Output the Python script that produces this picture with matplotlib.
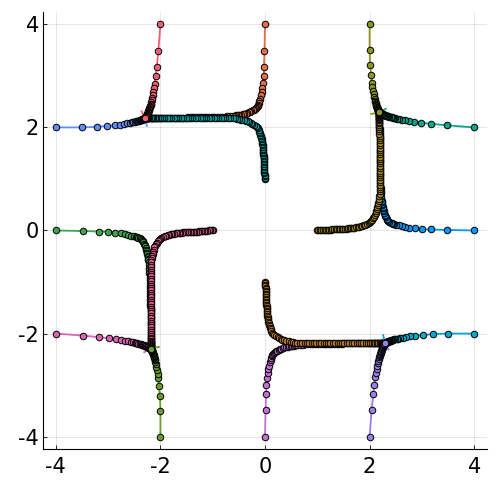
import matplotlib
matplotlib.use("Agg")
import matplotlib.pyplot as plt

# --- paths, one x/y pair per series (numbered in draw order) ---
# 1: from (4, 0)
x01 = [4.00, 3.48, 3.18, 3.00, 2.86, 2.76, 2.68, 2.62, 2.56, 2.51, 2.47,
       2.44, 2.42, 2.40, 2.38, 2.36, 2.34, 2.33, 2.31, 2.30, 2.29, 2.28, 2.27, 2.26, 2.255, 2.25, 2.245, 2.24, 2.235, 2.23,
       2.225, 2.22, 2.215, 2.21, 2.21, 2.205, 2.205, 2.20, 2.20, 2.20, 2.20, 2.20, 2.20, 2.195, 2.195, 2.195, 2.195, 2.195,
       2.19, 2.19, 2.19, 2.19, 2.19, 2.19, 2.19, 2.19, 2.19, 2.19,
       2.185, 2.185, 2.18, 2.18, 2.18, 2.18, 2.18, 2.18, 2.18, 2.18, 2.18, 2.18, 2.18, 2.18, 2.18]
y01 = [0.00, 0.01, 0.02, 0.02, 0.04, 0.05, 0.06, 0.08, 0.10, 0.11, 0.12,
       0.13, 0.14, 0.15, 0.17, 0.19, 0.21, 0.23, 0.26, 0.28, 0.31, 0.34, 0.37, 0.40, 0.43, 0.46, 0.49, 0.52, 0.55, 0.58,
       0.62, 0.67, 0.72, 0.77, 0.82, 0.87, 0.92, 0.97, 1.02, 1.07, 1.12, 1.17, 1.22, 1.27, 1.32, 1.37, 1.42, 1.47,
       1.52, 1.57, 1.62, 1.67, 1.72, 1.77, 1.82, 1.87, 1.92, 1.97,
       2.01, 2.05, 2.08, 2.11, 2.14, 2.17, 2.19, 2.21, 2.23, 2.24, 2.25, 2.26, 2.27, 2.28, 2.29]
# 2: from (0, 4)
x02 = [0.00, -0.01, -0.02, -0.02, -0.04, -0.05, -0.06, -0.08, -0.10, -0.11, -0.12,
       -0.13, -0.14, -0.15, -0.17, -0.19, -0.21, -0.23, -0.26, -0.28, -0.31, -0.34, -0.37, -0.40, -0.43, -0.46, -0.49, -0.52, -0.55, -0.58,
       -0.62, -0.67, -0.72, -0.77, -0.82, -0.87, -0.92, -0.97, -1.02, -1.07, -1.12, -1.17, -1.22, -1.27, -1.32, -1.37, -1.42, -1.47,
       -1.52, -1.57, -1.62, -1.67, -1.72, -1.77, -1.82, -1.87, -1.92, -1.97,
       -2.01, -2.05, -2.08, -2.11, -2.14, -2.17, -2.19, -2.21, -2.23, -2.24, -2.25, -2.26, -2.27, -2.28, -2.29]
y02 = [4.00, 3.48, 3.18, 3.00, 2.86, 2.76, 2.68, 2.62, 2.56, 2.51, 2.47,
       2.44, 2.42, 2.40, 2.38, 2.36, 2.34, 2.33, 2.31, 2.30, 2.29, 2.28, 2.27, 2.26, 2.255, 2.25, 2.245, 2.24, 2.235, 2.23,
       2.225, 2.22, 2.215, 2.21, 2.21, 2.205, 2.205, 2.20, 2.20, 2.20, 2.20, 2.20, 2.20, 2.195, 2.195, 2.195, 2.195, 2.195,
       2.19, 2.19, 2.19, 2.19, 2.19, 2.19, 2.19, 2.19, 2.19, 2.19,
       2.185, 2.185, 2.18, 2.18, 2.18, 2.18, 2.18, 2.18, 2.18, 2.18, 2.18, 2.18, 2.18, 2.18, 2.18]
# 3: from (-4, 0)
x03 = [-4.00, -3.48, -3.18, -3.00, -2.86, -2.76, -2.68, -2.62, -2.56, -2.51, -2.47,
       -2.44, -2.42, -2.40, -2.38, -2.36, -2.34, -2.33, -2.31, -2.30, -2.29, -2.28, -2.27, -2.26, -2.255, -2.25, -2.245, -2.24, -2.235, -2.23,
       -2.225, -2.22, -2.215, -2.21, -2.21, -2.205, -2.205, -2.20, -2.20, -2.20, -2.20, -2.20, -2.20, -2.195, -2.195, -2.195, -2.195, -2.195,
       -2.19, -2.19, -2.19, -2.19, -2.19, -2.19, -2.19, -2.19, -2.19, -2.19,
       -2.185, -2.185, -2.18, -2.18, -2.18, -2.18, -2.18, -2.18, -2.18, -2.18, -2.18, -2.18, -2.18, -2.18, -2.18]
y03 = [0.00, -0.01, -0.02, -0.02, -0.04, -0.05, -0.06, -0.08, -0.10, -0.11, -0.12,
       -0.13, -0.14, -0.15, -0.17, -0.19, -0.21, -0.23, -0.26, -0.28, -0.31, -0.34, -0.37, -0.40, -0.43, -0.46, -0.49, -0.52, -0.55, -0.58,
       -0.62, -0.67, -0.72, -0.77, -0.82, -0.87, -0.92, -0.97, -1.02, -1.07, -1.12, -1.17, -1.22, -1.27, -1.32, -1.37, -1.42, -1.47,
       -1.52, -1.57, -1.62, -1.67, -1.72, -1.77, -1.82, -1.87, -1.92, -1.97,
       -2.01, -2.05, -2.08, -2.11, -2.14, -2.17, -2.19, -2.21, -2.23, -2.24, -2.25, -2.26, -2.27, -2.28, -2.29]
# 4: from (0, -4)
x04 = [0.00, 0.01, 0.02, 0.02, 0.04, 0.05, 0.06, 0.08, 0.10, 0.11, 0.12,
       0.13, 0.14, 0.15, 0.17, 0.19, 0.21, 0.23, 0.26, 0.28, 0.31, 0.34, 0.37, 0.40, 0.43, 0.46, 0.49, 0.52, 0.55, 0.58,
       0.62, 0.67, 0.72, 0.77, 0.82, 0.87, 0.92, 0.97, 1.02, 1.07, 1.12, 1.17, 1.22, 1.27, 1.32, 1.37, 1.42, 1.47,
       1.52, 1.57, 1.62, 1.67, 1.72, 1.77, 1.82, 1.87, 1.92, 1.97,
       2.01, 2.05, 2.08, 2.11, 2.14, 2.17, 2.19, 2.21, 2.23, 2.24, 2.25, 2.26, 2.27, 2.28, 2.29]
y04 = [-4.00, -3.48, -3.18, -3.00, -2.86, -2.76, -2.68, -2.62, -2.56, -2.51, -2.47,
       -2.44, -2.42, -2.40, -2.38, -2.36, -2.34, -2.33, -2.31, -2.30, -2.29, -2.28, -2.27, -2.26, -2.255, -2.25, -2.245, -2.24, -2.235, -2.23,
       -2.225, -2.22, -2.215, -2.21, -2.21, -2.205, -2.205, -2.20, -2.20, -2.20, -2.20, -2.20, -2.20, -2.195, -2.195, -2.195, -2.195, -2.195,
       -2.19, -2.19, -2.19, -2.19, -2.19, -2.19, -2.19, -2.19, -2.19, -2.19,
       -2.185, -2.185, -2.18, -2.18, -2.18, -2.18, -2.18, -2.18, -2.18, -2.18, -2.18, -2.18, -2.18, -2.18, -2.18]
# 5: from (1, 0)
x05 = [0.99, 1.02, 1.05, 1.08, 1.11, 1.14, 1.17, 1.20, 1.23, 1.26, 1.29, 1.32, 1.35, 1.38, 1.41, 1.44,
       1.47, 1.50, 1.53, 1.56, 1.59, 1.62, 1.65, 1.68, 1.71, 1.74, 1.77, 1.80, 1.83, 1.86, 1.89, 1.92,
       1.95, 1.98, 2.00, 2.03, 2.05, 2.07, 2.09, 2.11, 2.12, 2.13, 2.14, 2.15, 2.16, 2.17,
       2.175, 2.18, 2.185, 2.19, 2.19, 2.19, 2.19, 2.19, 2.19, 2.19, 2.19, 2.19, 2.19, 2.19, 2.19, 2.19,
       2.19, 2.19, 2.19, 2.19, 2.19, 2.19, 2.19, 2.19, 2.19, 2.19, 2.19, 2.19, 2.19, 2.185, 2.185, 2.185,
       2.185, 2.185, 2.18, 2.18, 2.18, 2.18, 2.18, 2.18, 2.18, 2.18, 2.18, 2.18, 2.18, 2.18, 2.18]
y05 = [0.00, 0.00, 0.00, 0.00, 0.01, 0.01, 0.01, 0.01, 0.01, 0.01, 0.02, 0.02, 0.02, 0.02, 0.02, 0.02,
       0.03, 0.03, 0.03, 0.03, 0.04, 0.04, 0.04, 0.05, 0.05, 0.06, 0.06, 0.07, 0.08, 0.09, 0.10, 0.11,
       0.12, 0.14, 0.16, 0.18, 0.21, 0.24, 0.27, 0.30, 0.33, 0.37, 0.41, 0.45, 0.49, 0.53,
       0.58, 0.62, 0.67, 0.71, 0.76, 0.80, 0.85, 0.89, 0.94, 0.98, 1.03, 1.07, 1.12, 1.16, 1.21, 1.25,
       1.30, 1.34, 1.39, 1.43, 1.48, 1.52, 1.57, 1.61, 1.66, 1.70, 1.75, 1.79, 1.84, 1.88, 1.93, 1.97,
       2.01, 2.05, 2.08, 2.11, 2.14, 2.17, 2.19, 2.21, 2.23, 2.24, 2.25, 2.26, 2.27, 2.28, 2.29]
# 6: from (0, 1)
x06 = [0.00, 0.00, 0.00, 0.00, -0.01, -0.01, -0.01, -0.01, -0.01, -0.01, -0.02, -0.02, -0.02, -0.02, -0.02, -0.02,
       -0.03, -0.03, -0.03, -0.03, -0.04, -0.04, -0.04, -0.05, -0.05, -0.06, -0.06, -0.07, -0.08, -0.09, -0.10, -0.11,
       -0.12, -0.14, -0.16, -0.18, -0.21, -0.24, -0.27, -0.30, -0.33, -0.37, -0.41, -0.45, -0.49, -0.53,
       -0.58, -0.62, -0.67, -0.71, -0.76, -0.80, -0.85, -0.89, -0.94, -0.98, -1.03, -1.07, -1.12, -1.16, -1.21, -1.25,
       -1.30, -1.34, -1.39, -1.43, -1.48, -1.52, -1.57, -1.61, -1.66, -1.70, -1.75, -1.79, -1.84, -1.88, -1.93, -1.97,
       -2.01, -2.05, -2.08, -2.11, -2.14, -2.17, -2.19, -2.21, -2.23, -2.24, -2.25, -2.26, -2.27, -2.28, -2.29]
y06 = [0.99, 1.02, 1.05, 1.08, 1.11, 1.14, 1.17, 1.20, 1.23, 1.26, 1.29, 1.32, 1.35, 1.38, 1.41, 1.44,
       1.47, 1.50, 1.53, 1.56, 1.59, 1.62, 1.65, 1.68, 1.71, 1.74, 1.77, 1.80, 1.83, 1.86, 1.89, 1.92,
       1.95, 1.98, 2.00, 2.03, 2.05, 2.07, 2.09, 2.11, 2.12, 2.13, 2.14, 2.15, 2.16, 2.17,
       2.175, 2.18, 2.185, 2.19, 2.19, 2.19, 2.19, 2.19, 2.19, 2.19, 2.19, 2.19, 2.19, 2.19, 2.19, 2.19,
       2.19, 2.19, 2.19, 2.19, 2.19, 2.19, 2.19, 2.19, 2.19, 2.19, 2.19, 2.19, 2.19, 2.185, 2.185, 2.185,
       2.185, 2.185, 2.18, 2.18, 2.18, 2.18, 2.18, 2.18, 2.18, 2.18, 2.18, 2.18, 2.18, 2.18, 2.18]
# 7: from (-1, 0)
x07 = [-0.99, -1.02, -1.05, -1.08, -1.11, -1.14, -1.17, -1.20, -1.23, -1.26, -1.29, -1.32, -1.35, -1.38, -1.41, -1.44,
       -1.47, -1.50, -1.53, -1.56, -1.59, -1.62, -1.65, -1.68, -1.71, -1.74, -1.77, -1.80, -1.83, -1.86, -1.89, -1.92,
       -1.95, -1.98, -2.00, -2.03, -2.05, -2.07, -2.09, -2.11, -2.12, -2.13, -2.14, -2.15, -2.16, -2.17,
       -2.175, -2.18, -2.185, -2.19, -2.19, -2.19, -2.19, -2.19, -2.19, -2.19, -2.19, -2.19, -2.19, -2.19, -2.19, -2.19,
       -2.19, -2.19, -2.19, -2.19, -2.19, -2.19, -2.19, -2.19, -2.19, -2.19, -2.19, -2.19, -2.19, -2.185, -2.185, -2.185,
       -2.185, -2.185, -2.18, -2.18, -2.18, -2.18, -2.18, -2.18, -2.18, -2.18, -2.18, -2.18, -2.18, -2.18, -2.18]
y07 = [0.00, 0.00, 0.00, 0.00, -0.01, -0.01, -0.01, -0.01, -0.01, -0.01, -0.02, -0.02, -0.02, -0.02, -0.02, -0.02,
       -0.03, -0.03, -0.03, -0.03, -0.04, -0.04, -0.04, -0.05, -0.05, -0.06, -0.06, -0.07, -0.08, -0.09, -0.10, -0.11,
       -0.12, -0.14, -0.16, -0.18, -0.21, -0.24, -0.27, -0.30, -0.33, -0.37, -0.41, -0.45, -0.49, -0.53,
       -0.58, -0.62, -0.67, -0.71, -0.76, -0.80, -0.85, -0.89, -0.94, -0.98, -1.03, -1.07, -1.12, -1.16, -1.21, -1.25,
       -1.30, -1.34, -1.39, -1.43, -1.48, -1.52, -1.57, -1.61, -1.66, -1.70, -1.75, -1.79, -1.84, -1.88, -1.93, -1.97,
       -2.01, -2.05, -2.08, -2.11, -2.14, -2.17, -2.19, -2.21, -2.23, -2.24, -2.25, -2.26, -2.27, -2.28, -2.29]
# 8: from (0, -1)
x08 = [0.00, 0.00, 0.00, 0.00, 0.01, 0.01, 0.01, 0.01, 0.01, 0.01, 0.02, 0.02, 0.02, 0.02, 0.02, 0.02,
       0.03, 0.03, 0.03, 0.03, 0.04, 0.04, 0.04, 0.05, 0.05, 0.06, 0.06, 0.07, 0.08, 0.09, 0.10, 0.11,
       0.12, 0.14, 0.16, 0.18, 0.21, 0.24, 0.27, 0.30, 0.33, 0.37, 0.41, 0.45, 0.49, 0.53,
       0.58, 0.62, 0.67, 0.71, 0.76, 0.80, 0.85, 0.89, 0.94, 0.98, 1.03, 1.07, 1.12, 1.16, 1.21, 1.25,
       1.30, 1.34, 1.39, 1.43, 1.48, 1.52, 1.57, 1.61, 1.66, 1.70, 1.75, 1.79, 1.84, 1.88, 1.93, 1.97,
       2.01, 2.05, 2.08, 2.11, 2.14, 2.17, 2.19, 2.21, 2.23, 2.24, 2.25, 2.26, 2.27, 2.28, 2.29]
y08 = [-0.99, -1.02, -1.05, -1.08, -1.11, -1.14, -1.17, -1.20, -1.23, -1.26, -1.29, -1.32, -1.35, -1.38, -1.41, -1.44,
       -1.47, -1.50, -1.53, -1.56, -1.59, -1.62, -1.65, -1.68, -1.71, -1.74, -1.77, -1.80, -1.83, -1.86, -1.89, -1.92,
       -1.95, -1.98, -2.00, -2.03, -2.05, -2.07, -2.09, -2.11, -2.12, -2.13, -2.14, -2.15, -2.16, -2.17,
       -2.175, -2.18, -2.185, -2.19, -2.19, -2.19, -2.19, -2.19, -2.19, -2.19, -2.19, -2.19, -2.19, -2.19, -2.19, -2.19,
       -2.19, -2.19, -2.19, -2.19, -2.19, -2.19, -2.19, -2.19, -2.19, -2.19, -2.19, -2.19, -2.19, -2.185, -2.185, -2.185,
       -2.185, -2.185, -2.18, -2.18, -2.18, -2.18, -2.18, -2.18, -2.18, -2.18, -2.18, -2.18, -2.18, -2.18, -2.18]
# 9: from (4, 2)
x09 = [4.00, 3.48, 3.18, 2.99, 2.85, 2.76, 2.68, 2.62, 2.57, 2.53, 2.49, 2.46, 2.44, 2.42, 2.40, 2.38,
       2.36, 2.345, 2.33, 2.315, 2.30, 2.29, 2.28, 2.27, 2.26, 2.25, 2.24, 2.23, 2.22, 2.21, 2.195, 2.18]
y09 = [2.00, 2.04, 2.07, 2.09, 2.11, 2.13, 2.14, 2.15, 2.16, 2.17, 2.18, 2.185, 2.19, 2.20, 2.205, 2.21,
       2.215, 2.22, 2.225, 2.23, 2.235, 2.24, 2.245, 2.25, 2.255, 2.26, 2.265, 2.27, 2.275, 2.28, 2.285, 2.29]
# 10: from (2, 4)
x10 = [2.00, 2.00, 2.01, 2.03, 2.04, 2.05, 2.07, 2.08, 2.09, 2.10, 2.105, 2.11, 2.115, 2.12, 2.125, 2.13, 2.135,
       2.14, 2.145, 2.15, 2.152, 2.155, 2.157, 2.16, 2.162, 2.165, 2.167, 2.17, 2.172, 2.174, 2.176, 2.177, 2.178, 2.18]
y10 = [4.00, 3.50, 3.21, 3.02, 2.87, 2.78, 2.70, 2.64, 2.59, 2.55, 2.52, 2.49, 2.47, 2.45, 2.43, 2.41, 2.40,
       2.39, 2.38, 2.37, 2.36, 2.35, 2.345, 2.34, 2.335, 2.33, 2.325, 2.32, 2.315, 2.31, 2.305, 2.30, 2.295, 2.29]
# 11: from (4, -2)
x11 = [4.00, 3.50, 3.21, 3.02, 2.87, 2.78, 2.70, 2.64, 2.59, 2.55, 2.52, 2.49, 2.47, 2.45, 2.43, 2.41, 2.40,
       2.39, 2.38, 2.37, 2.36, 2.35, 2.345, 2.34, 2.335, 2.33, 2.325, 2.32, 2.315, 2.31, 2.305, 2.30, 2.295, 2.29]
y11 = [-2.00, -2.00, -2.01, -2.03, -2.04, -2.05, -2.07, -2.08, -2.09, -2.10, -2.105, -2.11, -2.115, -2.12, -2.125, -2.13, -2.135,
       -2.14, -2.145, -2.15, -2.152, -2.155, -2.157, -2.16, -2.162, -2.165, -2.167, -2.17, -2.172, -2.174, -2.176, -2.177, -2.178, -2.18]
# 12: from (2, -4)
x12 = [2.00, 2.04, 2.07, 2.09, 2.11, 2.13, 2.14, 2.15, 2.16, 2.17, 2.18, 2.185, 2.19, 2.20, 2.205, 2.21,
       2.215, 2.22, 2.225, 2.23, 2.235, 2.24, 2.245, 2.25, 2.255, 2.26, 2.265, 2.27, 2.275, 2.28, 2.285, 2.29]
y12 = [-4.00, -3.48, -3.18, -2.99, -2.85, -2.76, -2.68, -2.62, -2.57, -2.53, -2.49, -2.46, -2.44, -2.42, -2.40, -2.38,
       -2.36, -2.345, -2.33, -2.315, -2.30, -2.29, -2.28, -2.27, -2.26, -2.25, -2.24, -2.23, -2.22, -2.21, -2.195, -2.18]
# 13: from (-4, 2)
x13 = [-4.00, -3.50, -3.21, -3.02, -2.87, -2.78, -2.70, -2.64, -2.59, -2.55, -2.52, -2.49, -2.47, -2.45, -2.43, -2.41, -2.40,
       -2.39, -2.38, -2.37, -2.36, -2.35, -2.345, -2.34, -2.335, -2.33, -2.325, -2.32, -2.315, -2.31, -2.305, -2.30, -2.295, -2.29]
y13 = [2.00, 2.00, 2.01, 2.03, 2.04, 2.05, 2.07, 2.08, 2.09, 2.10, 2.105, 2.11, 2.115, 2.12, 2.125, 2.13, 2.135,
       2.14, 2.145, 2.15, 2.152, 2.155, 2.157, 2.16, 2.162, 2.165, 2.167, 2.17, 2.172, 2.174, 2.176, 2.177, 2.178, 2.18]
# 14: from (-2, 4)
x14 = [-2.00, -2.04, -2.07, -2.09, -2.11, -2.13, -2.14, -2.15, -2.16, -2.17, -2.18, -2.185, -2.19, -2.20, -2.205, -2.21,
       -2.215, -2.22, -2.225, -2.23, -2.235, -2.24, -2.245, -2.25, -2.255, -2.26, -2.265, -2.27, -2.275, -2.28, -2.285, -2.29]
y14 = [4.00, 3.48, 3.18, 2.99, 2.85, 2.76, 2.68, 2.62, 2.57, 2.53, 2.49, 2.46, 2.44, 2.42, 2.40, 2.38,
       2.36, 2.345, 2.33, 2.315, 2.30, 2.29, 2.28, 2.27, 2.26, 2.25, 2.24, 2.23, 2.22, 2.21, 2.195, 2.18]
# 15: from (-4, -2)
x15 = [-4.00, -3.48, -3.18, -2.99, -2.85, -2.76, -2.68, -2.62, -2.57, -2.53, -2.49, -2.46, -2.44, -2.42, -2.40, -2.38,
       -2.36, -2.345, -2.33, -2.315, -2.30, -2.29, -2.28, -2.27, -2.26, -2.25, -2.24, -2.23, -2.22, -2.21, -2.195, -2.18]
y15 = [-2.00, -2.04, -2.07, -2.09, -2.11, -2.13, -2.14, -2.15, -2.16, -2.17, -2.18, -2.185, -2.19, -2.20, -2.205, -2.21,
       -2.215, -2.22, -2.225, -2.23, -2.235, -2.24, -2.245, -2.25, -2.255, -2.26, -2.265, -2.27, -2.275, -2.28, -2.285, -2.29]
# 16: from (-2, -4)
x16 = [-2.00, -2.00, -2.01, -2.03, -2.04, -2.05, -2.07, -2.08, -2.09, -2.10, -2.105, -2.11, -2.115, -2.12, -2.125, -2.13, -2.135,
       -2.14, -2.145, -2.15, -2.152, -2.155, -2.157, -2.16, -2.162, -2.165, -2.167, -2.17, -2.172, -2.174, -2.176, -2.177, -2.178, -2.18]
y16 = [-4.00, -3.50, -3.21, -3.02, -2.87, -2.78, -2.70, -2.64, -2.59, -2.55, -2.52, -2.49, -2.47, -2.45, -2.43, -2.41, -2.40,
       -2.39, -2.38, -2.37, -2.36, -2.35, -2.345, -2.34, -2.335, -2.33, -2.325, -2.32, -2.315, -2.31, -2.305, -2.30, -2.295, -2.29]

# little overshoot segment after the last point (line only, no marker)
tails = {9: (2.31, 2.36), 10: (2.03, 2.26), 11: (2.26, -2.03), 12: (2.36, -2.31),
         13: (-2.26, 2.03), 14: (-2.36, 2.31), 15: (-2.31, -2.36), 16: (-2.03, -2.26)}

paths = [(x01, y01), (x02, y02), (x03, y03), (x04, y04), (x05, y05), (x06, y06), (x07, y07), (x08, y08),
         (x09, y09), (x10, y10), (x11, y11), (x12, y12), (x13, y13), (x14, y14), (x15, y15), (x16, y16)]
colors = ["#009AFA", "#E36F47", "#3EA44E", "#C371D2", "#AC8E18", "#00A9AD", "#ED5E93", "#C68225",
          "#00A98D", "#8E971D", "#00A9CD", "#9B7FE9", "#618DF6", "#F05F73", "#DD64B5", "#6B9D2C"]
ticks = [-4, -2, 0, 2, 4]

plt.rcParams['axes.unicode_minus'] = False
fig = plt.figure(figsize=(4.99, 4.99), dpi=100)
ax = fig.add_axes([0.0868, 0.1002, 0.8886, 0.8758])

for i, ((xs, ys), c) in enumerate(zip(paths, colors), start=1):
    lx, ly = list(xs), list(ys)
    if i in tails:
        lx.append(tails[i][0])
        ly.append(tails[i][1])
    ax.plot(lx, ly, color=c, lw=1.3)
    ax.plot(xs, ys, ls='none', marker='o', ms=4.7, mfc=c, mec='black', mew=0.7)

ax.set_xlim(-4.24, 4.24)
ax.set_ylim(-4.24, 4.24)
ax.set_xticks(ticks)
ax.set_yticks(ticks)
ax.grid(True, color='black', alpha=0.1, lw=0.7)
ax.set_axisbelow(True)
for side in ['top', 'right']:
    ax.spines[side].set_visible(False)
for side in ['left', 'bottom']:
    ax.spines[side].set_linewidth(0.8)
ax.tick_params(direction='in', length=3, width=0.6, labelsize=15)
ax.tick_params(axis='x', pad=6)
ax.tick_params(axis='y', pad=3)

fig.savefig("out.png", dpi=100)
